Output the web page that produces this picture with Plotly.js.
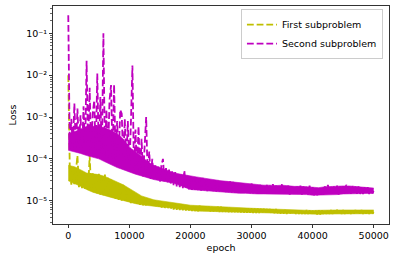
<!DOCTYPE html>
<html>
<head>
<meta charset="utf-8">
<script src="https://cdn.plot.ly/plotly-3.0.1.min.js"></script>
<style>html,body{margin:0;padding:0;background:#fff;}#chart{width:395px;height:262px;}</style>
</head>
<body>
<div id="chart"></div>
<script>
// One read-off value every 250 epochs (0..50000) for the lines,
// and the visible extent of the dense noisy band every 1000 epochs.
const epochStep = 250;
const bandStep = 1000;

const seriesNames = ["First subproblem", "Second subproblem"];

// First subproblem loss
const firstLoss = [
  1.0e-2, 5.5e-5, 2.4e-5, 6.0e-5, 2.3e-5, 5.0e-5, 1.2e-4, 2.1e-5, 4.5e-5, 2.0e-5,
  5.0e-5, 1.9e-5, 4.0e-5, 1.8e-5, 1.2e-4, 1.7e-5, 4.5e-5, 1.6e-5, 4.2e-5, 1.5e-5,
  4.4e-5, 1.4e-5, 3.8e-5, 1.35e-5, 4.2e-5, 1.3e-5, 3.5e-5, 1.25e-5, 3.2e-5, 1.2e-5,
  2.8e-5, 1.1e-5, 2.5e-5, 1.05e-5, 2.2e-5, 1.0e-5, 2.4e-5, 9.5e-6, 2.0e-5, 9.2e-6,
  1.8e-5, 8.7e-6, 1.6e-5, 8.5e-6, 1.4e-5, 8.2e-6, 1.2e-5, 8.0e-6, 1.1e-5, 7.8e-6,
  1.05e-5, 7.6e-6, 1.0e-5, 7.4e-6, 9.5e-6, 7.2e-6, 9.2e-6, 7.0e-6, 9.0e-6, 6.9e-6,
  9.0e-6, 6.8e-6, 8.6e-6, 6.6e-6, 8.4e-6, 6.5e-6, 8.2e-6, 6.3e-6, 8.3e-6, 6.2e-6,
  8.0e-6, 6.1e-6, 7.9e-6, 6.0e-6, 7.8e-6, 5.9e-6, 7.8e-6, 5.8e-6, 7.7e-6, 5.8e-6,
  7.6e-6, 5.7e-6, 7.5e-6, 5.7e-6, 7.4e-6, 5.6e-6, 7.6e-6, 5.6e-6, 7.3e-6, 5.6e-6,
  7.2e-6, 5.5e-6, 7.3e-6, 5.5e-6, 7.1e-6, 5.5e-6, 7.0e-6, 5.5e-6, 7.2e-6, 5.4e-6,
  7.2e-6, 5.4e-6, 7.0e-6, 5.4e-6, 6.9e-6, 5.3e-6, 7.0e-6, 5.3e-6, 6.8e-6, 5.3e-6,
  6.8e-6, 5.3e-6, 6.7e-6, 5.2e-6, 6.7e-6, 5.2e-6, 6.6e-6, 5.2e-6, 6.6e-6, 5.2e-6,
  6.6e-6, 5.1e-6, 6.5e-6, 5.1e-6, 6.5e-6, 5.1e-6, 6.4e-6, 5.1e-6, 6.4e-6, 5.0e-6,
  6.3e-6, 5.0e-6, 6.3e-6, 5.0e-6, 6.2e-6, 5.0e-6, 6.3e-6, 5.0e-6, 6.1e-6, 4.9e-6,
  6.1e-6, 4.9e-6, 6.0e-6, 4.8e-6, 5.9e-6, 4.8e-6, 5.9e-6, 4.8e-6, 5.9e-6, 4.8e-6,
  5.9e-6, 4.8e-6, 6.0e-6, 4.8e-6, 5.9e-6, 4.8e-6, 6.0e-6, 4.8e-6, 5.9e-6, 4.7e-6,
  5.8e-6, 4.7e-6, 5.8e-6, 4.7e-6, 5.9e-6, 4.7e-6, 5.9e-6, 4.8e-6, 6.0e-6, 4.8e-6,
  5.9e-6, 4.8e-6, 6.0e-6, 4.8e-6, 5.9e-6, 4.8e-6, 6.1e-6, 4.8e-6, 5.9e-6, 4.8e-6,
  6.0e-6, 4.8e-6, 5.9e-6, 4.9e-6, 6.0e-6, 4.8e-6, 5.9e-6, 4.9e-6, 6.0e-6, 4.8e-6,
  5.9e-6, 4.9e-6, 6.0e-6, 4.8e-6, 5.9e-6, 4.9e-6, 6.0e-6, 4.8e-6, 5.9e-6, 4.9e-6,
  5.4e-6
];

// Second subproblem loss
const secondLoss = [
  2.7e-1, 1.6e-4, 9.0e-4, 1.7e-4, 2.1e-3, 1.6e-4, 1.6e-3, 1.8e-4, 1.1e-3, 1.4e-4,
  1.8e-3, 1.4e-4, 2.2e-2, 1.5e-4, 5.0e-3, 1.3e-4, 1.2e-3, 2.5e-3, 1.2e-4, 1.1e-2,
  1.2e-4, 3.0e-3, 1.1e-4, 1.0e-1, 1.2e-4, 1.5e-3, 1.0e-4, 2.5e-3, 5.8e-3, 1.0e-4,
  6.0e-3, 9.5e-5, 8.0e-4, 9.0e-5, 1.5e-3, 1.2e-3, 8.0e-5, 9.0e-4, 7.5e-5, 8.0e-4,
  5.0e-5, 7.0e-4, 1.7e-2, 5.0e-5, 5.0e-4, 4.5e-5, 6.0e-4, 4.0e-5, 3.0e-4, 3.8e-5,
  2.0e-4, 1.0e-3, 3.5e-5, 1.5e-4, 3.3e-5, 1.0e-4, 3.1e-5, 7.0e-5, 3.0e-5, 6.5e-5,
  2.8e-5, 7.0e-5, 1.0e-4, 2.7e-5, 6.0e-5, 2.6e-5, 5.5e-5, 2.4e-5, 5.0e-5, 2.3e-5,
  4.8e-5, 2.2e-5, 4.5e-5, 2.1e-5, 4.2e-5, 2.0e-5, 5.3e-5, 1.9e-5, 4.0e-5, 1.8e-5,
  3.8e-5, 1.8e-5, 3.6e-5, 1.8e-5, 3.5e-5, 1.75e-5, 3.4e-5, 1.75e-5, 3.5e-5, 1.7e-5,
  3.3e-5, 1.7e-5, 3.2e-5, 1.7e-5, 3.1e-5, 1.7e-5, 3.0e-5, 1.65e-5, 3.0e-5, 1.65e-5,
  2.9e-5, 1.6e-5, 2.9e-5, 1.6e-5, 2.8e-5, 1.6e-5, 2.9e-5, 1.55e-5, 2.8e-5, 1.55e-5,
  2.7e-5, 1.5e-5, 2.6e-5, 1.5e-5, 2.5e-5, 1.5e-5, 2.6e-5, 1.5e-5, 2.5e-5, 1.45e-5,
  2.6e-5, 1.5e-5, 2.4e-5, 1.45e-5, 2.4e-5, 1.5e-5, 2.5e-5, 1.45e-5, 2.3e-5, 1.45e-5,
  2.4e-5, 1.45e-5, 2.3e-5, 1.5e-5, 2.5e-5, 1.45e-5, 2.3e-5, 1.45e-5, 2.3e-5, 1.45e-5,
  2.6e-5, 1.45e-5, 2.3e-5, 1.45e-5, 2.3e-5, 1.4e-5, 2.2e-5, 1.45e-5, 2.2e-5, 1.4e-5,
  2.2e-5, 1.45e-5, 2.3e-5, 1.4e-5, 2.2e-5, 1.45e-5, 2.2e-5, 1.4e-5, 2.3e-5, 1.4e-5,
  2.1e-5, 1.35e-5, 2.0e-5, 1.35e-5, 2.0e-5, 1.4e-5, 2.1e-5, 1.4e-5, 2.2e-5, 1.45e-5,
  2.4e-5, 1.45e-5, 2.2e-5, 1.4e-5, 2.2e-5, 1.45e-5, 2.3e-5, 1.4e-5, 2.2e-5, 1.45e-5,
  2.3e-5, 1.45e-5, 2.4e-5, 1.5e-5, 2.2e-5, 1.45e-5, 2.3e-5, 1.45e-5, 2.2e-5, 1.45e-5,
  2.2e-5, 1.45e-5, 2.1e-5, 1.45e-5, 2.1e-5, 1.5e-5, 2.1e-5, 1.45e-5, 2.0e-5, 1.5e-5,
  1.7e-5
];

// Visible lower / upper edge of the dense noisy band, every 1000 epochs
const firstBandLow = [
  3.0e-5, 2.6e-5, 2.2e-5, 1.85e-5, 1.6e-5, 1.45e-5, 1.3e-5, 1.2e-5, 1.1e-5, 1.0e-5,
  9.0e-6, 8.5e-6, 8.0e-6, 7.6e-6, 7.3e-6, 7.1e-6, 6.9e-6, 6.6e-6, 6.3e-6, 6.0e-6,
  5.7e-6, 5.65e-6, 5.6e-6, 5.55e-6, 5.5e-6, 5.45e-6, 5.4e-6, 5.35e-6, 5.3e-6, 5.2e-6,
  5.15e-6, 5.1e-6, 5.05e-6, 5.0e-6, 5.0e-6, 4.95e-6, 4.85e-6, 4.8e-6, 4.8e-6, 4.8e-6,
  4.75e-6, 4.75e-6, 4.8e-6, 4.8e-6, 4.8e-6, 4.8e-6, 4.85e-6, 4.85e-6, 4.85e-6, 4.85e-6,
  4.9e-6
];
const firstBandHigh = [
  7.0e-5, 6.5e-5, 5.5e-5, 4.6e-5, 4.4e-5, 4.2e-5, 3.8e-5, 3.2e-5, 2.8e-5, 2.4e-5,
  2.0e-5, 1.6e-5, 1.3e-5, 1.15e-5, 1.05e-5, 1.0e-5, 9.6e-6, 9.2e-6, 8.7e-6, 8.2e-6,
  7.8e-6, 7.7e-6, 7.6e-6, 7.5e-6, 7.4e-6, 7.3e-6, 7.2e-6, 7.1e-6, 6.9e-6, 6.8e-6,
  6.6e-6, 6.5e-6, 6.4e-6, 6.3e-6, 6.25e-6, 6.2e-6, 6.0e-6, 5.9e-6, 5.9e-6, 5.9e-6,
  5.85e-6, 5.9e-6, 6.0e-6, 6.0e-6, 6.0e-6, 6.0e-6, 6.0e-6, 6.0e-6, 6.0e-6, 6.0e-6,
  6.0e-6
];
const secondBandLow = [
  1.6e-4, 1.5e-4, 1.35e-4, 1.2e-4, 1.1e-4, 1.0e-4, 8.5e-5, 7.2e-5, 6.2e-5, 5.5e-5,
  4.8e-5, 4.3e-5, 3.9e-5, 3.5e-5, 3.2e-5, 3.0e-5, 2.9e-5, 2.7e-5, 2.4e-5, 2.1e-5,
  1.85e-5, 1.8e-5, 1.75e-5, 1.7e-5, 1.7e-5, 1.65e-5, 1.6e-5, 1.55e-5, 1.5e-5, 1.5e-5,
  1.45e-5, 1.45e-5, 1.45e-5, 1.45e-5, 1.45e-5, 1.45e-5, 1.4e-5, 1.4e-5, 1.4e-5, 1.4e-5,
  1.35e-5, 1.35e-5, 1.4e-5, 1.4e-5, 1.4e-5, 1.45e-5, 1.45e-5, 1.45e-5, 1.45e-5, 1.45e-5,
  1.5e-5
];
const secondBandHigh = [
  4.0e-4, 4.5e-4, 5.0e-4, 6.0e-4, 6.0e-4, 6.0e-4, 5.5e-4, 4.8e-4, 4.0e-4, 3.0e-4,
  1.9e-4, 1.5e-4, 1.15e-4, 8.5e-5, 7.0e-5, 6.2e-5, 5.4e-5, 4.8e-5, 4.4e-5, 4.1e-5,
  3.9e-5, 3.7e-5, 3.5e-5, 3.3e-5, 3.1e-5, 3.0e-5, 2.9e-5, 2.8e-5, 2.7e-5, 2.55e-5,
  2.45e-5, 2.4e-5, 2.35e-5, 2.35e-5, 2.3e-5, 2.35e-5, 2.25e-5, 2.2e-5, 2.2e-5, 2.15e-5,
  2.1e-5, 2.05e-5, 2.15e-5, 2.2e-5, 2.2e-5, 2.25e-5, 2.25e-5, 2.2e-5, 2.15e-5, 2.1e-5,
  2.0e-5
];

// Axis ticks
const xTickVals = [0, 10000, 20000, 30000, 40000, 50000];
const xTickText = ["0", "10000", "20000", "30000", "40000", "50000"];
const yTickVals = [1e-5, 1e-4, 1e-3, 1e-2, 1e-1];
const yTickText = ["10\u207B\u2075", "10\u207B\u2074", "10\u207B\u00B3", "10\u207B\u00B2", "10\u207B\u00B9"];
const yMinorVals = [];
[1e-6, 1e-5, 1e-4, 1e-3, 1e-2, 1e-1].forEach(function (d) {
  for (let k = 2; k <= 9; k++) yMinorVals.push(k * d);
});

function epochsOf(arr, step) { return arr.map(function (_, i) { return i * step; }); }

const FONT = "DejaVu Sans, Verdana, sans-serif";
const FS = 9.5;
const YELLOW = "#bfbf00";
const MAGENTA = "#bf00bf";
const DASH = "6.8px,2.9px";

function bandPair(low, high, color) {
  const xs = epochsOf(low, bandStep);
  return [
    { type: "scatter", mode: "lines", x: xs, y: low, showlegend: false, hoverinfo: "skip",
      line: { color: color, width: 0.6 } },
    { type: "scatter", mode: "lines", x: xs, y: high, showlegend: false, hoverinfo: "skip",
      fill: "tonexty", fillcolor: color, line: { color: color, width: 0.6 } }
  ];
}

const traces = [].concat(
  bandPair(firstBandLow, firstBandHigh, YELLOW),
  [{
    type: "scatter", mode: "lines", name: seriesNames[0],
    x: epochsOf(firstLoss, epochStep), y: firstLoss,
    line: { color: YELLOW, width: 1.8, dash: DASH, simplify: false }
  }],
  bandPair(secondBandLow, secondBandHigh, MAGENTA),
  [{
    type: "scatter", mode: "lines", name: seriesNames[1],
    x: epochsOf(secondLoss, epochStep), y: secondLoss,
    line: { color: MAGENTA, width: 1.8, dash: DASH, simplify: false }
  }]
);

const axisCommon = {
  showgrid: false, zeroline: false,
  showline: true, linecolor: "#000", linewidth: 0.8, mirror: true,
  ticks: "outside", ticklen: 3.2, tickwidth: 0.8, tickcolor: "#000",
  tickfont: { family: FONT, size: FS, color: "#000" }
};

const layout = {
  width: 395, height: 262,
  margin: { l: 53, r: 6, t: 6, b: 38 },
  paper_bgcolor: "#fff", plot_bgcolor: "#fff",
  font: { family: FONT, size: FS, color: "#000" },
  showlegend: true,
  legend: {
    x: 0.982, y: 0.986, xanchor: "right", yanchor: "top",
    traceorder: "normal",
    bgcolor: "rgba(255,255,255,0.8)", bordercolor: "#cccccc", borderwidth: 1,
    font: { family: FONT, size: FS, color: "#000" },
    itemwidth: 30
  },
  xaxis: Object.assign({}, axisCommon, {
    range: [-2500, 52500],
    tickmode: "array", tickvals: xTickVals, ticktext: xTickText,
    title: { text: "epoch", font: { family: FONT, size: FS, color: "#000" }, standoff: 3 }
  }),
  yaxis: Object.assign({}, axisCommon, {
    type: "log",
    range: [-5.557, -0.347],
    tickmode: "array", tickvals: yTickVals, ticktext: yTickText,
    minor: { tickmode: "array", tickvals: yMinorVals, ticks: "outside", ticklen: 1.8, tickwidth: 0.6, tickcolor: "#000", showgrid: false },
    title: { text: "Loss", font: { family: FONT, size: FS, color: "#000" }, standoff: 7 }
  })
};

Plotly.newPlot("chart", traces, layout, { staticPlot: true, displayModeBar: false });
</script>
</body>
</html>
